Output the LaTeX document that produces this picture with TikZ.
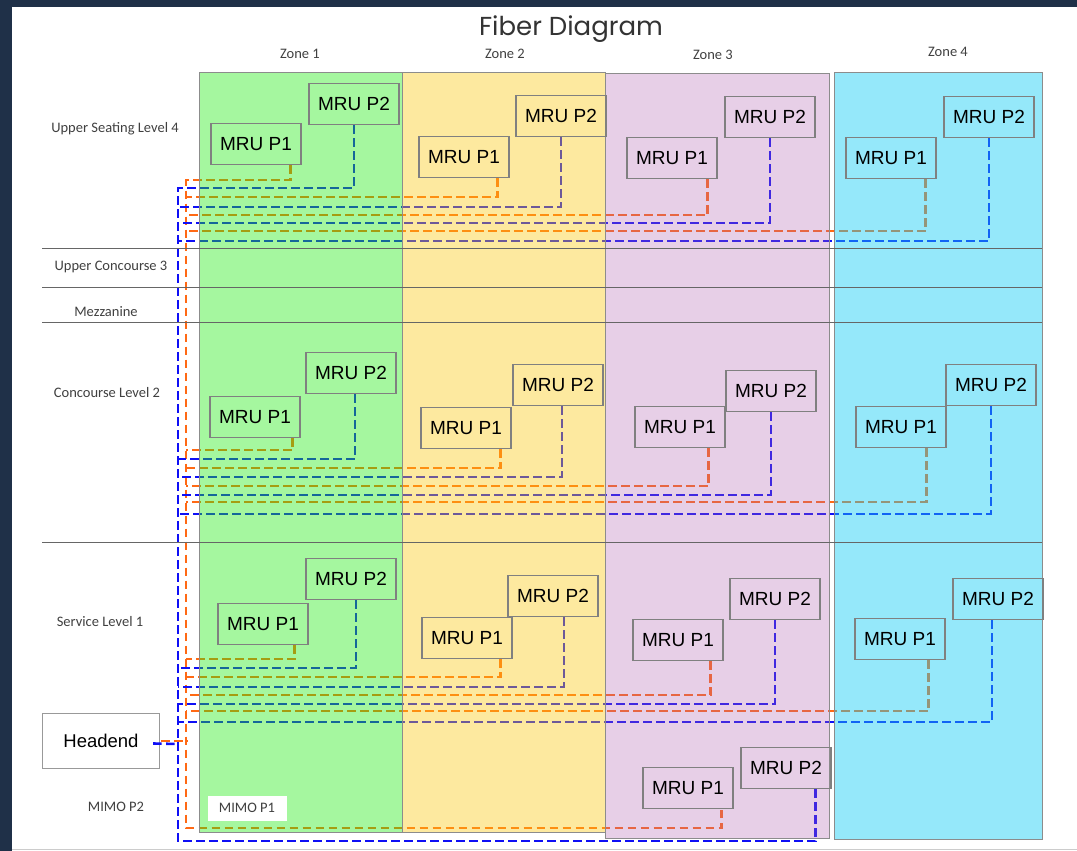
\documentclass[tikz,border=0pt]{standalone}
\usepackage{fontspec}
\setmainfont{Liberation Sans}
\newfontfamily\lblfont{Carlito}
\newfontfamily\ttlfont{Poppins}
\usetikzlibrary{positioning,calc}

\definecolor{framebg}{RGB}{31,48,72}
\definecolor{fibor}{RGB}{255,105,20}
\definecolor{fibbl}{RGB}{15,15,245}
\definecolor{zoneA}{RGB}{32,235,17}
\definecolor{zoneB}{RGB}{252,200,17}
\definecolor{zoneC}{RGB}{178,98,178}
\definecolor{zoneD}{RGB}{20,204,244}

\pgfdeclarelayer{fibers}
\pgfdeclarelayer{zones}
\pgfsetlayers{fibers,zones,main}

\tikzset{
  mru/.style={draw=black!50, line width=1.1pt, minimum width=90pt, minimum height=41pt, inner sep=0pt, font=\fontsize{19}{22}\selectfont},
  lvl/.style={font=\lblfont\fontsize{14.5}{17}\selectfont, text=black!75},
  orf/.style={fibor, line width=2.6pt, dash pattern=on 8.5pt off 4.5pt},
  blf/.style={fibbl, line width=2.6pt, dash pattern=on 8.5pt off 4.5pt},
  zone/.style={draw=black!45, line width=0.9pt}
}

\begin{document}
\begin{tikzpicture}[x=1pt,y=-1pt]
    \useasboundingbox (0,0) rectangle (1077,851);
    \begin{pgfonlayer}{fibers}
    \fill[framebg] (0,0) rectangle (1077,851);
    \fill[white] (12,7) rectangle (1077,851);
    \draw[black!20, line width=1.5pt] (12,849.5) -- (1077,849.5);
    \end{pgfonlayer}

    % Boxes
    \node[mru] (us1a) at (256,144) {MRU P1};
    \node[mru] (us1b) at (354,104) {MRU P2};
    \node[mru] (us2a) at (464,157) {MRU P1};
    \node[mru] (us2b) at (561,116) {MRU P2};
    \node[mru] (us3a) at (672,158) {MRU P1};
    \node[mru] (us3b) at (770,117) {MRU P2};
    \node[mru] (us4a) at (891,158) {MRU P1};
    \node[mru] (us4b) at (989,117) {MRU P2};

    \node[mru] (cc1a) at (255,417) {MRU P1};
    \node[mru] (cc1b) at (351,373) {MRU P2};
    \node[mru] (cc2a) at (466,428) {MRU P1};
    \node[mru] (cc2b) at (558,385) {MRU P2};
    \node[mru] (cc3a) at (680,427) {MRU P1};
    \node[mru] (cc3b) at (771,391) {MRU P2};
    \node[mru] (cc4a) at (901,427) {MRU P1};
    \node[mru] (cc4b) at (991,385) {MRU P2};

    \node[mru] (sv1a) at (263,624) {MRU P1};
    \node[mru] (sv1b) at (351,579) {MRU P2};
    \node[mru] (sv2a) at (467,638) {MRU P1};
    \node[mru] (sv2b) at (553,596) {MRU P2};
    \node[mru] (sv3a) at (678,640) {MRU P1};
    \node[mru] (sv3b) at (775,599) {MRU P2};
    \node[mru] (sv4a) at (900,639) {MRU P1};
    \node[mru] (sv4b) at (998,599) {MRU P2};

    \node[mru] (mm1) at (688,788) {MRU P1};
    \node[mru] (mm2) at (786,768) {MRU P2};

    \node[draw=black!40, fill=white, line width=1.1pt, minimum width=117pt, minimum height=55pt, font=\fontsize{18.5}{22}\selectfont] (hend) at (101,741) {Headend};

    \begin{pgfonlayer}{fibers}
    % Fiber - orange trunk
    \draw[orf] ([xshift=-11pt]us1a.south east) |- (186,180) -- (186,828) -| ([xshift=-12pt]mm1.south east);
    \draw[orf] ([xshift=-12pt]us2a.south east) |- (186,197);
    \draw[orf] ([xshift=-10pt]us3a.south east) |- (186,215);
    \draw[orf] ([xshift=-11pt]us4a.south east) |- (186,231);
    \draw[orf] ([xshift=-8pt]cc1a.south east) |- (186,450);
    \draw[orf] ([xshift=-11pt]cc2a.south east) |- (186,468);
    \draw[orf] ([xshift=-17pt]cc3a.south east) |- (186,486);
    \draw[orf] ([xshift=-20pt]cc4a.south east) |- (186,502);
    \draw[orf] ([xshift=-14pt]sv1a.south east) |- (186,659);
    \draw[orf] ([xshift=-12pt]sv2a.south east) |- (186,677);
    \draw[orf] ([xshift=-13pt]sv3a.south east) |- (186,695);
    \draw[orf] ([xshift=-17pt]sv4a.south east) |- (186,711);

    % Fiber - blue trunk
    \draw[blf] (us1b.south) |- (178,188) -- (178,841) -| ([xshift=-16pt]mm2.south east);
    \draw[blf] (us2b.south) |- (178,207);
    \draw[blf] (us3b.south) |- (178,223);
    \draw[blf] (us4b.south) |- (178,241);
    \draw[blf] ([xshift=4pt]cc1b.south) |- (178,459);
    \draw[blf] ([xshift=4pt]cc2b.south) |- (178,477);
    \draw[blf] (cc3b.south) |- (178,495);
    \draw[blf] (cc4b.south) |- (178,514);
    \draw[blf] ([xshift=5pt]sv1b.south) |- (178,668);
    \draw[blf] ([xshift=11pt]sv2b.south) |- (178,687);
    \draw[blf] (sv3b.south) |- (178,704);
    \draw[blf] ([xshift=-6pt]sv4b.south) |- (178,722);
    \end{pgfonlayer}

    % Headend stubs
    \draw[blf] ([xshift=-7pt,yshift=-2.5pt]hend.east) -- (178,744);
    \draw[orf] ([xshift=1pt]hend.east) -- (188,741);

    % Zones
    \begin{pgfonlayer}{zones}
    \filldraw[zone, fill=zoneA, fill opacity=.4] (199,72) rectangle (402,832);
    \filldraw[zone, fill=zoneB, fill opacity=.4] (402,72) rectangle (605,832);
    \filldraw[zone, fill=zoneC, fill opacity=.3] (605,73) rectangle (829,838);
    \filldraw[zone, fill=zoneD, fill opacity=.45] (834,72) rectangle (1042,839);
    \end{pgfonlayer}

    % Levels
    \draw[black!60, line width=0.9pt] (42,248) -- (1042,248);
    \draw[black!60, line width=0.9pt] (42,287) -- (1042,287);
    \draw[black!60, line width=0.9pt] (42,322) -- (1042,322);
    \draw[black!60, line width=0.9pt] (42,542) -- (1042,542);

    % Labels
    \node[font=\ttlfont\fontsize{26}{30}\selectfont, text=black!80] (title) at (571,29) {Fiber Diagram};
    \node[lvl] (z1) at (300,54) {Zone 1};
    \node[lvl] (z2) at (505,54) {Zone 2};
    \node[lvl] (z3) at (713,55) {Zone 3};
    \node[lvl] (z4) at (948,52) {Zone 4};
    \node[lvl] (l4) at (115,129) {Upper Seating Level 4};
    \node[lvl] (l3) at (111,267) {Upper Concourse 3};
    \node[lvl] (lm) at (106,312) {Mezzanine};
    \node[lvl] (l2) at (107,393) {Concourse Level 2};
    \node[lvl] (l1) at (100,622) {Service Level 1};
    \node[lvl] (mp2) at (116,807) {MIMO P2};
    \node[lvl, fill=white, minimum width=79pt, minimum height=25pt, inner sep=0pt] (mp1) at (247,808) {MIMO P1};
\end{tikzpicture}
\end{document}
